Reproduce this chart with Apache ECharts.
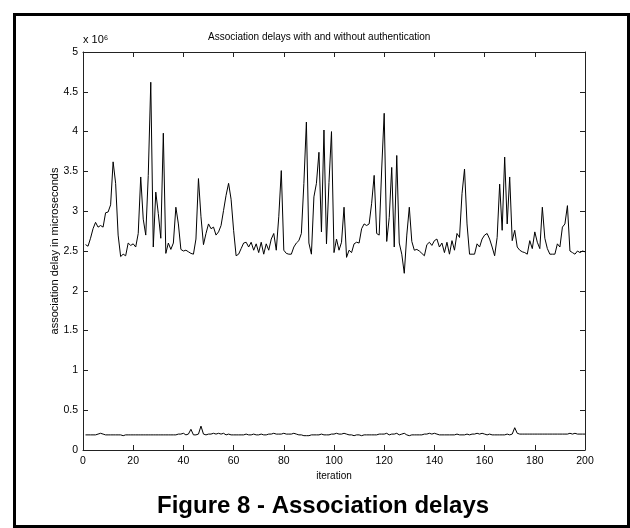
<!DOCTYPE html>
<html>
<head>
<meta charset="utf-8">
<script src="https://cdn.jsdelivr.net/npm/echarts@6/dist/echarts.min.js"></script>
<style>
  html, body { margin: 0; padding: 0; background: #fff; }
  #chart { width: 630px; height: 528px; }
</style>
</head>
<body>
<div id="chart"></div>
<script>
// association delay (x 10^6 microseconds), iterations 1..200
var withAuth = [
  2.58, 2.56, 2.66, 2.78, 2.86, 2.80, 2.82, 2.80, 2.98, 2.99,
  3.08, 3.62, 3.35, 2.70, 2.43, 2.46, 2.44, 2.60, 2.57, 2.59,
  2.55, 2.72, 3.43, 2.90, 2.70, 3.45, 4.62, 2.55, 3.24, 2.97,
  2.66, 3.98, 2.47, 2.60, 2.52, 2.60, 3.05, 2.84, 2.52, 2.50,
  2.51, 2.49, 2.47, 2.46, 2.65, 3.41, 2.93, 2.58, 2.72, 2.84,
  2.78, 2.80, 2.70, 2.74, 2.82, 3.01, 3.20, 3.35, 3.15, 2.76,
  2.44, 2.46, 2.53, 2.60, 2.61, 2.55, 2.61, 2.51, 2.59, 2.48,
  2.61, 2.46, 2.59, 2.51, 2.65, 2.72, 2.51, 2.93, 3.51, 2.51,
  2.47, 2.46, 2.46, 2.55, 2.60, 2.63, 2.72, 3.35, 4.12, 2.60,
  2.46, 3.18, 3.35, 3.74, 2.74, 4.02, 2.59, 3.36, 4.00, 2.48,
  2.65, 2.51, 2.61, 3.05, 2.42, 2.51, 2.48, 2.59, 2.61, 2.60,
  2.78, 2.84, 2.82, 2.84, 3.10, 3.45, 2.72, 2.70, 3.53, 4.23,
  2.62, 2.92, 3.55, 2.55, 3.70, 2.60, 2.46, 2.22, 2.70, 3.05,
  2.62, 2.51, 2.52, 2.50, 2.47, 2.44, 2.58, 2.61, 2.57, 2.63,
  2.65, 2.55, 2.60, 2.48, 2.61, 2.46, 2.63, 2.51, 2.72, 2.67,
  3.22, 3.53, 2.84, 2.46, 2.46, 2.46, 2.59, 2.55, 2.65, 2.70,
  2.72, 2.65, 2.55, 2.44, 2.67, 3.34, 2.76, 3.68, 2.84, 3.43,
  2.63, 2.76, 2.55, 2.51, 2.49, 2.48, 2.46, 2.63, 2.53, 2.74,
  2.61, 2.53, 3.05, 2.66, 2.53, 2.46, 2.46, 2.46, 2.59, 2.55,
  2.80, 2.84, 3.07, 2.50, 2.48, 2.46, 2.50, 2.48, 2.50, 2.49
];

var withoutAuth = [
  0.19, 0.19, 0.19, 0.19, 0.19, 0.20, 0.21, 0.20, 0.19, 0.19,
  0.19, 0.19, 0.19, 0.19, 0.19, 0.18, 0.19, 0.19, 0.19, 0.19,
  0.19, 0.19, 0.19, 0.19, 0.19, 0.19, 0.19, 0.19, 0.19, 0.19,
  0.19, 0.19, 0.19, 0.19, 0.19, 0.19, 0.19, 0.20, 0.20, 0.21,
  0.19, 0.20, 0.26, 0.19, 0.19, 0.20, 0.30, 0.20, 0.19, 0.20,
  0.20, 0.21, 0.20, 0.21, 0.20, 0.21, 0.19, 0.20, 0.19, 0.19,
  0.19, 0.19, 0.19, 0.19, 0.20, 0.19, 0.19, 0.20, 0.19, 0.19,
  0.20, 0.19, 0.19, 0.20, 0.20, 0.21, 0.20, 0.20, 0.20, 0.21,
  0.20, 0.20, 0.20, 0.21, 0.20, 0.19, 0.19, 0.18, 0.18, 0.18,
  0.19, 0.19, 0.19, 0.19, 0.20, 0.19, 0.19, 0.19, 0.20, 0.20,
  0.21, 0.20, 0.20, 0.21, 0.20, 0.19, 0.19, 0.18, 0.19, 0.19,
  0.18, 0.19, 0.19, 0.19, 0.19, 0.19, 0.19, 0.20, 0.20, 0.20,
  0.21, 0.19, 0.20, 0.20, 0.21, 0.19, 0.20, 0.21, 0.19, 0.18,
  0.19, 0.19, 0.19, 0.19, 0.19, 0.20, 0.20, 0.21, 0.20, 0.21,
  0.20, 0.19, 0.19, 0.19, 0.19, 0.19, 0.19, 0.19, 0.20, 0.19,
  0.19, 0.19, 0.20, 0.19, 0.20, 0.20, 0.21, 0.20, 0.21, 0.20,
  0.19, 0.20, 0.19, 0.19, 0.19, 0.19, 0.19, 0.19, 0.20, 0.19,
  0.20, 0.28, 0.21, 0.20, 0.20, 0.20, 0.20, 0.20, 0.20, 0.20,
  0.20, 0.20, 0.20, 0.20, 0.20, 0.20, 0.20, 0.20, 0.20, 0.20,
  0.20, 0.20, 0.20, 0.21, 0.20, 0.21, 0.20, 0.20, 0.20, 0.20
];

var titleText = 'Association delays with and without authentication';
var captionText = 'Figure 8 - Association delays';

function toPoints(arr) {
  var pts = [];
  for (var i = 0; i < arr.length; i++) {
    pts.push([i + 1, arr[i]]);
  }
  return pts;
}

var font = 'Liberation Sans, Arial, Helvetica, sans-serif';

var myChart = echarts.init(document.getElementById('chart'), null, { renderer: 'canvas' });

// matlab style box: ticks point into the plot on all four sides
function tickStyle() {
  return { show: true, inside: true, length: 5, lineStyle: { color: '#222', width: 1 } };
}
function lineAxis() {
  return { show: true, onZero: false, lineStyle: { color: '#222', width: 1 } };
}

var option = {
  animation: false,
  backgroundColor: '#fff',
  title: {
    text: titleText,
    left: 208,
    top: 32,
    padding: 0,
    textStyle: { fontFamily: font, fontSize: 10, fontWeight: 'normal', color: '#000' }
  },
  grid: { left: 83, right: 45, top: 52, bottom: 78, containLabel: false },
  xAxis: [
    {
      type: 'value', min: 0, max: 200, interval: 20, position: 'bottom',
      axisLine: lineAxis(), axisTick: tickStyle(), splitLine: { show: false },
      axisLabel: { color: '#000', fontFamily: font, fontSize: 10.5, margin: 6 },
      name: 'iteration', nameLocation: 'middle', nameGap: 21, nameMoveOverlap: false,
      nameTextStyle: { color: '#000', fontFamily: font, fontSize: 10 }
    },
    {
      type: 'value', min: 0, max: 200, interval: 20, position: 'top',
      axisLine: lineAxis(), axisTick: tickStyle(), splitLine: { show: false },
      axisLabel: { show: false }
    }
  ],
  yAxis: [
    {
      type: 'value', min: 0, max: 5, interval: 0.5, position: 'left',
      axisLine: lineAxis(), axisTick: tickStyle(), splitLine: { show: false },
      axisLabel: { color: '#000', fontFamily: font, fontSize: 10.5, margin: 5 },
      name: 'association delay in microseconds', nameLocation: 'middle', nameGap: 23,
      nameMoveOverlap: false,
      nameTextStyle: { color: '#000', fontFamily: font, fontSize: 11 }
    },
    {
      type: 'value', min: 0, max: 5, interval: 0.5, position: 'right',
      axisLine: lineAxis(), axisTick: tickStyle(), splitLine: { show: false },
      axisLabel: { show: false }
    }
  ],
  graphic: [
    {
      type: 'rect', left: 12, top: 12,
      shape: { width: 614, height: 512 },
      style: { fill: 'none', stroke: '#000', lineWidth: 3 }
    },
    {
      type: 'text', left: 83, top: 34,
      style: { text: 'x 10\u2076', fill: '#000', font: '11px ' + font }
    },
    {
      type: 'text', left: 157, top: 494,
      style: { text: captionText, fill: '#000', font: 'bold 24px ' + font }
    }
  ],
  series: [
    {
      name: 'with authentication', type: 'line', xAxisIndex: 0, yAxisIndex: 0,
      data: toPoints(withAuth), showSymbol: false,
      lineStyle: { color: '#000', width: 1 }
    },
    {
      name: 'without authentication', type: 'line', xAxisIndex: 0, yAxisIndex: 0,
      data: toPoints(withoutAuth), showSymbol: false,
      lineStyle: { color: '#000', width: 1 }
    }
  ]
};

myChart.setOption(option);
</script>
</body>
</html>
